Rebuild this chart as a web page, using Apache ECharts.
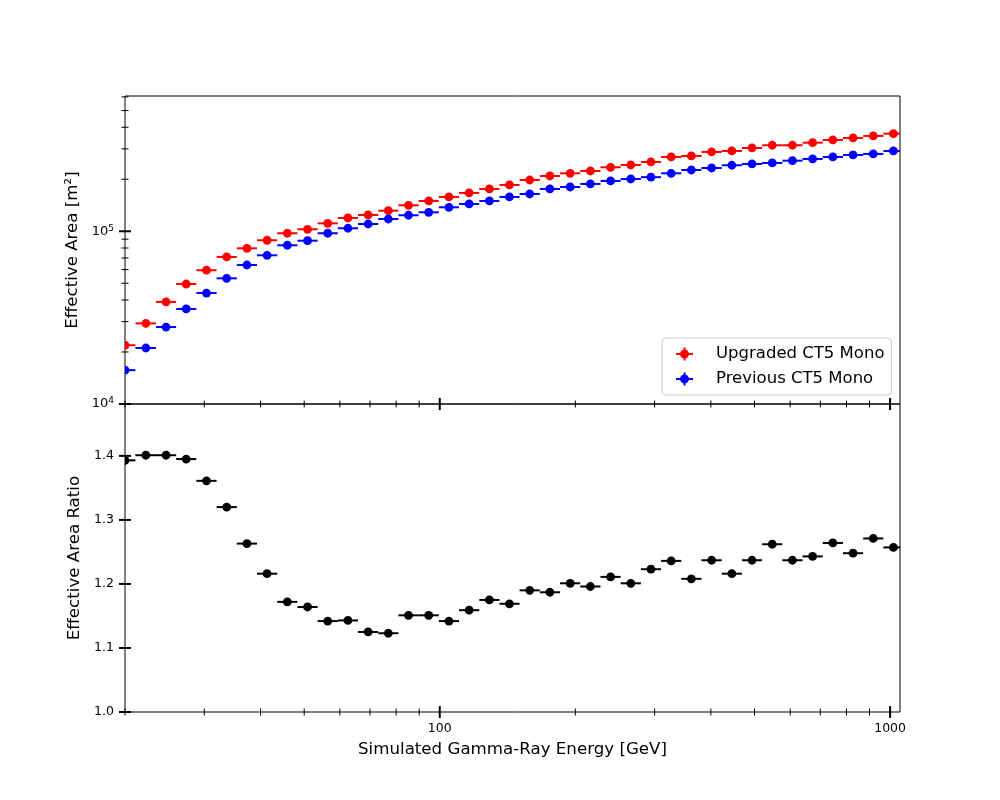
<!DOCTYPE html>
<html><head><meta charset="utf-8">
<script src="https://cdn.jsdelivr.net/npm/echarts@6/dist/echarts.min.js"></script>
<style>html,body{margin:0;padding:0;background:#fff}#c{width:1000px;height:800px}</style>
</head><body><div id="c"></div>
<script>
// Bin centres (GeV)
const energies = [20.0, 22.25, 24.67, 27.35, 30.34, 33.64, 37.31, 41.36, 45.87, 50.86, 56.39, 62.52, 69.33, 76.88, 85.23, 94.51, 104.8, 116.2, 128.9, 142.8, 158.4, 175.6, 194.8, 216.0, 239.5, 265.6, 294.4, 326.5, 362.0, 401.5, 445.2, 493.6, 547.4, 607.0, 673.0, 746.3, 827.5, 917.5, 1017.2];
// Effective area (m^2)
const upgraded = [21900, 29300, 39000, 49500, 59500, 71000, 79700, 88700, 97400, 102700, 111200, 119400, 124300, 131600, 141400, 149800, 158000, 166700, 175800, 185400, 198100, 209000, 216600, 223400, 234700, 242000, 251900, 269300, 272900, 287900, 291700, 303600, 314800, 314800, 325800, 337800, 346900, 356300, 367400];
const previous = [15700, 21100, 27900, 35500, 43900, 53400, 63800, 72600, 83000, 88200, 97400, 104100, 110200, 117800, 123800, 128800, 137700, 143900, 149800, 158000, 164400, 175800, 180500, 187900, 195600, 200800, 205700, 216600, 226400, 232500, 241100, 245300, 248600, 256300, 262200, 269300, 276600, 280300, 291700];
const ratio = [1.393, 1.401, 1.401, 1.395, 1.361, 1.320, 1.263, 1.216, 1.172, 1.164, 1.142, 1.143, 1.125, 1.123, 1.151, 1.151, 1.142, 1.159, 1.175, 1.169, 1.190, 1.187, 1.201, 1.196, 1.211, 1.201, 1.223, 1.236, 1.208, 1.237, 1.216, 1.237, 1.262, 1.237, 1.243, 1.264, 1.248, 1.271, 1.257];
const seriesNames = ['Upgraded CT5 Mono', 'Previous CT5 Mono'];
// Tick values
const xMajorTicks = [100, 1000];
const xMinorTicks = [20, 30, 40, 50, 60, 70, 80, 90, 200, 300, 400, 500, 600, 700, 800, 900];
const yTopMajorTicks = [1e4, 1e5];
const yTopMinorTicks = [2e4, 3e4, 4e4, 5e4, 6e4, 7e4, 8e4, 9e4, 2e5, 3e5, 4e5, 5e5, 6e5];
const yRatioTicks = [1.0, 1.1, 1.2, 1.3, 1.4];

const X_MIN = 20, X_MAX = 1052, YT_MIN = 1e4, YT_MAX = 607000, YR_MIN = 1.0, YR_MAX = 1.481;
const FONT = 'DejaVu Sans';

function binEdges(i) {
  const n = energies.length;
  const lo = i > 0 ? Math.sqrt(energies[i - 1] * energies[i]) : energies[0] * energies[0] / Math.sqrt(energies[0] * energies[1]);
  const hi = i < n - 1 ? Math.sqrt(energies[i] * energies[i + 1]) : energies[n - 1] * energies[n - 1] / Math.sqrt(energies[n - 2] * energies[n - 1]);
  return [lo, hi];
}

function errSeries(name, values, color, gridIdx, z) {
  return {
    name: name, type: 'custom', coordinateSystem: 'cartesian2d',
    xAxisIndex: gridIdx, yAxisIndex: gridIdx, clip: true, z: z,
    itemStyle: { color: color },
    encode: { x: 0, y: 1 },
    data: values.map((v, i) => { const e = binEdges(i); return [energies[i], v, e[0], e[1]]; }),
    renderItem: function (params, api) {
      const c = api.coord([api.value(0), api.value(1)]);
      const l = api.coord([api.value(2), api.value(1)]);
      const h = api.coord([api.value(3), api.value(1)]);
      return { type: 'group', children: [
        { type: 'line', shape: { x1: l[0], y1: c[1], x2: h[0], y2: c[1] }, style: { stroke: color, lineWidth: 2 } },
        { type: 'circle', shape: { cx: c[0], cy: c[1], r: 4.4 }, style: { fill: color } }
      ] };
    }
  };
}

function tickSeries(values, dir, gridIdx, half, width, anchor) {
  return {
    type: 'custom', coordinateSystem: 'cartesian2d', xAxisIndex: gridIdx, yAxisIndex: gridIdx,
    clip: false, silent: true, z: 20, legendHoverLink: false,
    data: values.map(v => dir === 'x' ? [v, anchor] : [anchor, v]),
    renderItem: function (params, api) {
      const p = api.coord([api.value(0), api.value(1)]);
      const shape = dir === 'x' ? { x1: p[0], y1: p[1] - half, x2: p[0], y2: p[1] + half }
                                : { x1: p[0] - half, y1: p[1], x2: p[0] + half, y2: p[1] };
      return { type: 'line', shape: shape, style: { stroke: '#000', lineWidth: width } };
    }
  };
}

const isPow10 = v => Math.abs(Math.log10(v) - Math.round(Math.log10(v))) < 1e-6;

const iconPath = 'path://M0 11 L34 11 L34 15 L0 15 Z M15 0 L19 0 L19 26 L15 26 Z M26 13 A9 9 0 1 1 8 13 A9 9 0 1 1 26 13 Z';

const chart = echarts.init(document.getElementById('c'), null, { renderer: 'canvas' });
chart.setOption({
  animation: false,
  backgroundColor: '#fff',
  textStyle: { fontFamily: FONT },
  grid: [
    { left: 125, right: 100, top: 96, height: 308, show: true, borderColor: '#000', borderWidth: 1, backgroundColor: 'transparent' },
    { left: 125, right: 100, top: 404, height: 308, show: true, borderColor: '#000', borderWidth: 1, backgroundColor: 'transparent' }
  ],
  legend: {
    orient: 'vertical', left: 662, top: 338,
    padding: [6, 7, 6, 14], itemGap: 5, itemWidth: 17, itemHeight: 13,
    backgroundColor: 'rgba(255,255,255,0.8)', borderColor: '#cccccc', borderWidth: 1, borderRadius: 4,
    textStyle: { fontFamily: FONT, fontSize: 16.5, color: '#000', lineHeight: 20, padding: [0, 0, 0, 18] },
    data: [
      { name: seriesNames[0], icon: iconPath, itemStyle: { color: '#ff0000' } },
      { name: seriesNames[1], icon: iconPath, itemStyle: { color: '#0000ff' } }
    ]
  },
  xAxis: [
    { type: 'log', gridIndex: 0, min: X_MIN, max: X_MAX, axisLine: { show: false }, axisTick: { show: false }, axisLabel: { show: false }, splitLine: { show: false } },
    { type: 'log', gridIndex: 1, min: X_MIN, max: X_MAX, axisLine: { show: false }, axisTick: { show: false }, splitLine: { show: false },
      axisLabel: { show: true, margin: 10, fontFamily: FONT, fontSize: 12.5, color: '#000', formatter: v => isPow10(v) ? String(Math.round(v)) : '' },
      name: 'Simulated Gamma-Ray Energy [GeV]', nameLocation: 'middle', nameGap: 29,
      nameTextStyle: { fontFamily: FONT, fontSize: 16.67, color: '#000' } }
  ],
  yAxis: [
    { type: 'log', gridIndex: 0, min: YT_MIN, max: YT_MAX, axisLine: { show: false }, axisTick: { show: false }, splitLine: { show: false },
      axisLabel: { show: true, margin: 11, fontFamily: FONT, fontSize: 13, color: '#000',
        formatter: v => isPow10(v) ? '{b|10}{s|' + Math.round(Math.log10(v)) + '}' : '',
        rich: {
          b: { fontFamily: FONT, fontSize: 13, color: '#000' },
          s: { fontFamily: FONT, fontSize: 9, color: '#000', padding: [0, 0, 6, 0] }
        } },
      name: 'Effective Area [m²]', nameLocation: 'middle', nameGap: 44,
      nameTextStyle: { fontFamily: FONT, fontSize: 16.67, color: '#000' } },
    { type: 'value', gridIndex: 1, min: YR_MIN, max: YR_MAX, interval: 0.1, axisLine: { show: false }, axisTick: { show: false }, splitLine: { show: false },
      axisLabel: { show: true, margin: 11, fontFamily: FONT, fontSize: 12.5, color: '#000', formatter: v => v > 1.45 ? '' : v.toFixed(1) },
      name: 'Effective Area Ratio', nameLocation: 'middle', nameGap: 38,
      nameTextStyle: { fontFamily: FONT, fontSize: 16.67, color: '#000' } }
  ],
  series: [
    errSeries(seriesNames[0], upgraded, '#ff0000', 0, 5),
    errSeries(seriesNames[1], previous, '#0000ff', 0, 6),
    errSeries('Ratio', ratio, '#000000', 1, 5),
    tickSeries(xMajorTicks, 'x', 0, 6, 2, YT_MIN),
    tickSeries(xMinorTicks, 'x', 0, 3.5, 1, YT_MIN),
    tickSeries(yTopMajorTicks, 'y', 0, 6, 2, X_MIN),
    tickSeries(yTopMinorTicks, 'y', 0, 3.5, 1, X_MIN),
    tickSeries(xMajorTicks, 'x', 1, 6, 2, YR_MIN),
    tickSeries(xMinorTicks, 'x', 1, 3.5, 1, YR_MIN),
    tickSeries(yRatioTicks, 'y', 1, 6, 2, X_MIN)
  ]
});
</script>
</body></html>
